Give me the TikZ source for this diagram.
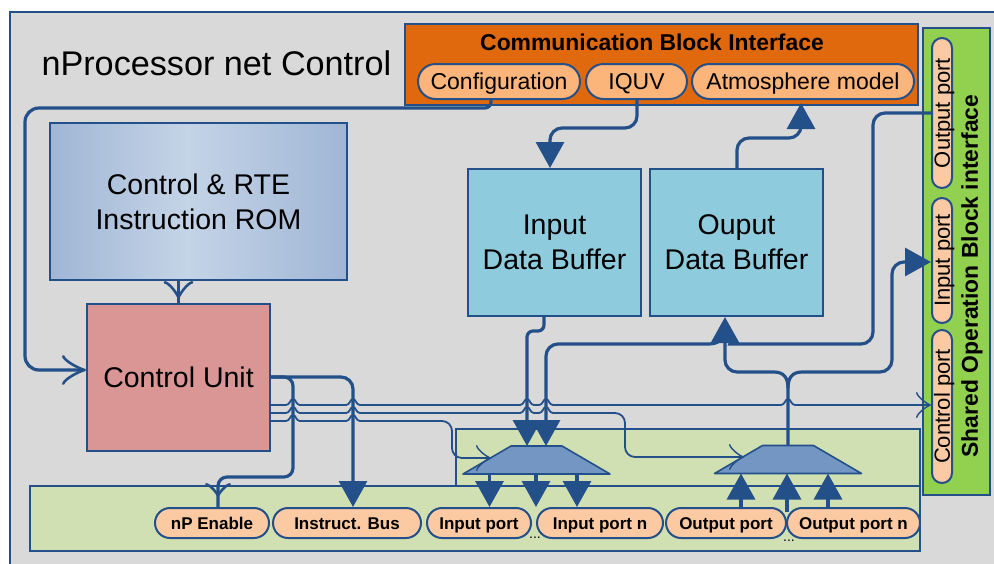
\documentclass[tikz,border=0pt]{standalone}
\usepackage{fontspec}
\setmainfont{Liberation Sans}
\usetikzlibrary{arrows.meta,decorations.markings}

\definecolor{frame}{HTML}{24508A}
\definecolor{bggray}{HTML}{D9D9D9}
\definecolor{cbi}{HTML}{DF690C}
\definecolor{cbipill}{HTML}{FBB47A}
\definecolor{portpill}{HTML}{FBCAA2}
\definecolor{olive}{HTML}{D1E0B3}
\definecolor{sobgreen}{HTML}{92D050}
\definecolor{bufcyan}{HTML}{8DCBDD}
\definecolor{cupink}{HTML}{DA9694}
\definecolor{muxblue}{HTML}{7396C2}
\definecolor{romedge}{HTML}{A0B6D5}
\definecolor{romlight}{HTML}{C4D4E7}

\pgfdeclarehorizontalshading{romshade}{100bp}{color(0bp)=(romedge); color(25bp)=(romedge); color(48bp)=(romlight); color(75bp)=(romedge); color(100bp)=(romedge)}

% small bump of a thin wire jumping over a vertical wire at x=#1, y=#2
\newcommand\linehop[2]{-- ({#1-7},#2) .. controls ({#1-3},#2) and ({#1-3},{#2-6}) .. (#1,{#2-6}) .. controls ({#1+3},{#2-6}) and ({#1+3},#2) .. ({#1+7},#2)}

\tikzset{
  box/.style={draw=frame, line width=2pt, inner sep=0pt},
  bigtext/.style={font=\fontsize{28.5}{35}\selectfont, align=center},
  cbipillbox/.style={draw=frame, line width=2pt, fill=cbipill, rounded corners=17.5pt,
    inner sep=0pt, minimum height=35pt, text height=16.5pt, text depth=0pt,
    font=\fontsize{23}{26}\selectfont},
  portbox/.style={draw=frame, line width=2pt, fill=portpill, rounded corners=15pt,
    inner sep=0pt, minimum height=30pt, text height=12.2pt, text depth=0pt,
    font=\bfseries\fontsize{17}{20}\selectfont},
  sobport/.style={draw=frame, line width=2pt, fill=portpill, rounded corners=10pt,
    inner sep=0pt, minimum height=20pt, rotate=90, text height=15.8pt, text depth=0pt,
    font=\fontsize{22}{24}\selectfont},
  muxframe/.style={inner sep=0pt, outer sep=0pt, minimum width=147pt, minimum height=28pt},
  muxshape/.style={draw=frame, fill=muxblue, line width=1.6pt, line join=round},
  wire/.style={draw=frame, line width=3.2pt},
  thinwire/.style={draw=frame, line width=1.8pt},
  fillhead/.style={-{Triangle[length=26pt,width=28pt]}},
  openhead/.style={-{Classical TikZ Rightarrow[length=15pt,width=26pt]}},
  romvee/.style={postaction={decorate, decoration={markings,
    mark=at position #1 with {\arrow{Classical TikZ Rightarrow[length=18pt,width=30pt]}}}}},
  enavee/.style={postaction={decorate, decoration={markings,
    mark=at position #1 with {\arrow{Classical TikZ Rightarrow[length=14pt,width=26pt]}}}}},
}

\begin{document}
\begin{tikzpicture}[x=1pt, y=-1pt]
\useasboundingbox (0,0) rectangle (994,563);
\fill[white] (0,0) rectangle (994,563);

% outer frame
\draw[frame, line width=2pt, fill=bggray] (10,12) rectangle (1010,580);

\node[anchor=base west, font=\fontsize{34.2}{40}\selectfont] (title) at (38,75) {nProcessor net Control};

% communication block interface
\node[box, fill=cbi, minimum width=513pt, minimum height=81pt] (cbi) at (661.5,64.5) {};
\node[anchor=base, font=\bfseries\fontsize{22.9}{26}\selectfont] (cbititle) at (652,50) {Communication Block Interface};
\node[cbipillbox, minimum width=162pt] (cfg) at (499,81.5) {Configuration};
\node[cbipillbox, minimum width=101pt] (iquv) at (636.5,81.5) {IQUV};
\node[cbipillbox, minimum width=222pt] (atm) at (803,81.5) {Atmosphere model};

% shared operation block interface
\node[box, fill=sobgreen, minimum width=67pt, minimum height=467pt] (sob) at (956.5,261.5) {};
\node[rotate=90, font=\bfseries\fontsize{22.9}{26}\selectfont] (sobtitle) at (972,276) {Shared Operation Block interface};
\node[sobport, minimum width=150pt] (sop) at (942,113) {Output port};
\node[sobport, minimum width=125pt] (sip) at (942,260.5) {Input port};
\node[sobport, minimum width=153pt] (scp) at (942,406.5) {Control port};

% main blocks
\node[box, shading=romshade, minimum width=297pt, minimum height=157pt, bigtext] (rom) at (198.5,201.5) {Control \& RTE\\Instruction ROM};
\node[box, fill=cupink, minimum width=183pt, minimum height=147pt, bigtext] (cu) at (178.5,377.5) {Control Unit};
\node[box, fill=bufcyan, minimum width=173pt, minimum height=147pt, bigtext] (inbuf) at (554.5,242.5) {Input\\Data Buffer};
\node[box, fill=bufcyan, minimum width=173pt, minimum height=147pt, bigtext] (outbuf) at (736.5,242.5) {Ouput\\Data Buffer};

% port strip and multiplexer area
\node[box, fill=olive, minimum width=464pt, minimum height=57pt] (muxarea) at (688,457.5) {};
\node[box, fill=olive, minimum width=890pt, minimum height=65pt] (strip) at (475,518.5) {};

\node[portbox, minimum width=114pt] (npe) at (212,523) {nP Enable};
\node[portbox, minimum width=148pt] (ib) at (347,523) {Instruct. Bus};
\node[portbox, minimum width=104pt] (inp) at (479,523) {Input port};
\node[portbox, minimum width=126pt] (inpn) at (600,523) {Input port n};
\node[portbox, minimum width=120pt] (outp) at (726,523) {Output port};
\node[portbox, minimum width=133pt] (outpn) at (853.5,523) {Output port n};
\node[font=\fontsize{14}{14}\selectfont] (dotsin) at (535,538) {...};
\node[font=\fontsize{14}{14}\selectfont] (dotsout) at (789,541) {...};

% multiplexers (trapezoids)
\node[muxframe] (mux1) at (536.5,460) {};
\node[muxframe] (mux2) at (788,459.5) {};
\foreach \m in {mux1,mux2}
  \draw[muxshape] (\m.south west) -- (\m.south east) -- ([xshift=-48pt]\m.north east)
    -- ([xshift=48pt]\m.north west) -- cycle;

% configuration to control unit
\draw[wire, -{Classical TikZ Rightarrow[length=24pt,width=30pt]}]
  (491,0 |- cfg.south) {[rounded corners=6pt] -- (491,108) -- (200,108)}
  {[rounded corners=14pt] -- (25,108) -- (25,370) -- (cu.west |- 0,370)};

% instruction ROM to control unit
\draw[wire, romvee=18pt] (cu.north |- rom.south) -- (cu.north);

% control unit outputs
\draw[wire, rounded corners=9pt, enavee=-10pt] (cu.east |- 0,377) -- (293,377) -- (293,477) -- (218,477) -- (218,0 |- npe.north);
\draw[wire, rounded corners=12pt, fillhead] (cu.east |- 0,377) -- (353,377) -- (353,0 |- ib.north);

\draw[thinwire, openhead] (cu.east |- 0,405) \linehop{293}{405} \linehop{353}{405}
  \linehop{527}{405} \linehop{546}{405} \linehop{788}{405} -- (scp.north |- 0,405);
\draw[thinwire, openhead] (cu.east |- 0,413) \linehop{293}{413} \linehop{353}{413}
  \linehop{527}{413} \linehop{546}{413} {[rounded corners=10pt] -- (625,413) -- (625,457) -- (744,457)};
\draw[thinwire, openhead] (cu.east |- 0,421) \linehop{293}{421} \linehop{353}{421}
  {[rounded corners=10pt] -- (452,421) -- (452,458) -- (491,458)};

% data buffers and communication block
\draw[wire, rounded corners=12pt, fillhead] (637,0 |- iquv.south) -- (637,128) -- (550,128) -- (550,0 |- inbuf.north);
\draw[wire, rounded corners=12pt, fillhead] (737,0 |- outbuf.north) -- (737,138) -- (801,138) -- (801,103);

% input buffer to input multiplexer
\draw[wire, rounded corners=6pt, fillhead] (544,0 |- inbuf.south) -- (544,331) -- (527,331) -- (527,0 |- mux1.north);

% shared output port to output buffer and input multiplexer
\draw[wire] (sop.north |- 0,113) {[rounded corners=12pt] -- (873,113) -- (873,344) -- (742,344)}
  .. controls (732,344) and (727,340) .. (727,332);
\draw[wire, fillhead] (723,332) .. controls (723,340) and (718,344) .. (708,344)
  {[rounded corners=12pt] -- (546,344) -- (546,0 |- mux1.north)};

% output multiplexer to output buffer and shared input port
\draw[wire, fillhead] (788,0 |- mux2.north) -- (788,388) .. controls (788,378) and (784,372) .. (774,372)
  {[rounded corners=12pt] -- (725,372) -- (725,0 |- outbuf.south)};
\draw[wire, fillhead] (788,388) .. controls (788,378) and (792,372) .. (802,372)
  {[rounded corners=12pt] -- (892,372) -- (892,262) -- (sip.north |- 0,262)};

% multiplexer ports
\draw[wire, fillhead] (489.5,0 |- mux1.south) -- (489.5,0 |- inp.north);
\draw[wire, fillhead] (536,0 |- mux1.south) -- (536,0 |- inp.north);
\draw[wire, fillhead] (577,0 |- mux1.south) -- (577,0 |- inpn.north);
\draw[wire, fillhead] (741,0 |- outp.north) -- (741,0 |- mux2.south);
\draw[wire, fillhead] (787,512) -- (787,0 |- mux2.south);
\draw[wire, fillhead] (828,0 |- outpn.north) -- (828,0 |- mux2.south);
\end{tikzpicture}
\end{document}
